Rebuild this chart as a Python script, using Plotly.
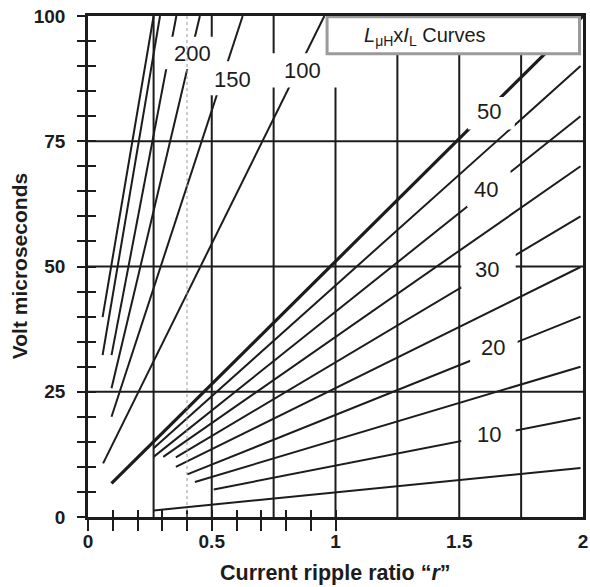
import plotly.graph_objects as go

# ---------------- data ----------------
# Low family of LxI curves: value, start (r, Et) and end (r, Et)
low_li = [5, 10, 15, 20, 25, 30, 35, 40, 45, 50]
low_r0 = [0.265, 0.508, 0.432, 0.401, 0.355, 0.355, 0.304, 0.265, 0.265, 0.095]
low_e0 = [1.3, 5.5, 7.0, 8.5, 10.0, 11.9, 12.0, 12.0, 13.7, 6.7]
low_r1 = [1.99, 1.99, 1.99, 1.99, 1.99, 1.99, 1.99, 1.99, 1.99, 2.0]
low_e1 = [9.8, 19.8, 30.0, 40.0, 49.9, 60.0, 70.0, 80.0, 90.0, 100.0]

# Steep family of LxI curves (100, 150, 200, 250 and two unlabeled)
steep_li = [100, 150, 200, 250, 300, 350]
steep_r0 = [0.061, 0.095, 0.095, 0.095, 0.059, 0.059]
steep_e0 = [10.7, 20.0, 25.7, 32.3, 32.3, 39.9]
steep_r1 = [0.955, 0.625, 0.452, 0.357, 0.291, 0.265]
steep_e1 = [100, 100, 100, 100, 100, 100]

# Grid
grid_r = [0.265, 0.5, 0.75, 1.0, 1.25, 1.5, 1.75]
grid_et = [25, 50, 75]
dotted_r = 0.4

# Curve labels (text, position, white knock-out box)
lab_text = ["200", "150", "100", "50", "40", "30", "20", "10"]
lab_r = [0.424, 0.582, 0.868, 1.621, 1.608, 1.614, 1.638, 1.620]
lab_et = [92.6, 87.4, 89.1, 80.9, 65.4, 49.4, 33.8, 16.4]
box_r0 = [0.308, 0.468, 0.728, 1.535, 1.532, 1.508, 1.544, 1.508]
box_r1 = [0.520, 0.696, 1.012, 1.724, 1.708, 1.728, 1.736, 1.728]
box_e0 = [89.36, 84.17, 85.71, 77.33, 61.82, 45.65, 30.88, 13.31]
box_e1 = [95.85, 90.96, 92.55, 83.83, 69.00, 52.64, 37.27, 19.30]

# Legend-like title box
legend_text = "<i>L</i><sub>μH</sub>x<i>I</i><sub>L</sub> Curves"
legend_box = [0.966, 1.986, 92.46, 99.84]
legend_pos = [1.108, 96.0]

# Axes
x_tick_vals = [0, 0.5, 1, 1.5, 2]
x_tick_text = ["0", "0.5", "1", "1.5", "2"]
x_minor = [round(0.1 * i, 1) for i in range(11)]
y_tick_vals = [0, 25, 50, 75, 100]
y_tick_text = ["0", "25", "50", "75", "100"]
y_minor = list(range(0, 101, 5))

INK = "#1c1c1c"
FONT = "Liberation Sans, Arial, sans-serif"

fig = go.Figure()

# gridlines as traces
gx, gy = [], []
for r in grid_r:
    gx += [r, r, None]
    gy += [0, 100, None]
for e in grid_et:
    gx += [0, 2, None]
    gy += [e, e, None]
fig.add_trace(go.Scatter(x=gx, y=gy, mode="lines", line=dict(color=INK, width=2),
                         hoverinfo="skip", showlegend=False))

for li, a, b, c, d in zip(low_li, low_r0, low_e0, low_r1, low_e1):
    fig.add_trace(go.Scatter(x=[a, c], y=[b, d], mode="lines", name=str(li),
                             line=dict(color=INK, width=3.2 if li == 50 else 2),
                             showlegend=False))
for li, a, b, c, d in zip(steep_li, steep_r0, steep_e0, steep_r1, steep_e1):
    fig.add_trace(go.Scatter(x=[a, c], y=[b, d], mode="lines", name=str(li),
                             line=dict(color=INK, width=2), showlegend=False))

# dummy traces for overlay tick axes
fig.add_trace(go.Scatter(x=[None], y=[None], xaxis="x2", yaxis="y2", showlegend=False))
fig.add_trace(go.Scatter(x=[None], y=[None], xaxis="x3", yaxis="y3", showlegend=False))

shapes = []
for a, b, c, d in zip(box_r0, box_r1, box_e0, box_e1):
    shapes.append(dict(type="rect", xref="x", yref="y", x0=a, x1=b, y0=c, y1=d,
                       fillcolor="white", line=dict(width=0), layer="above"))
shapes.append(dict(type="line", xref="x", yref="y", x0=dotted_r, x1=dotted_r, y0=0, y1=100,
                   line=dict(color="#9a9a9a", width=1, dash="dot"), layer="above"))
shapes.append(dict(type="rect", xref="x", yref="y", x0=legend_box[0], x1=legend_box[1],
                   y0=legend_box[2], y1=legend_box[3], fillcolor="white",
                   line=dict(color="#9b9b9b", width=3), layer="above"))

annotations = []
for t, r, e in zip(lab_text, lab_r, lab_et):
    annotations.append(dict(x=r, y=e, xref="x", yref="y", text=t, showarrow=False,
                            font=dict(family=FONT, size=22, color=INK),
                            xanchor="center", yanchor="middle"))
annotations.append(dict(x=legend_pos[0], y=legend_pos[1], xref="x", yref="y",
                        text=legend_text, showarrow=False, xanchor="left", yanchor="middle",
                        font=dict(family=FONT, size=20, color=INK)))
annotations.append(dict(x=0.5, y=-0.112, xref="paper", yref="paper",
                        text="Current ripple ratio “<i>r</i>”", showarrow=False,
                        xanchor="center", yanchor="middle",
                        font=dict(family=FONT, size=21.5, color=INK, weight="bold")))
annotations.append(dict(x=-0.138, y=0.5, xref="paper", yref="paper",
                        text="Volt microseconds", showarrow=False, textangle=-90,
                        xanchor="center", yanchor="middle",
                        font=dict(family=FONT, size=21, color=INK, weight="bold")))

tickfont = dict(family=FONT, size=19, color=INK, weight="bold")
fig.update_layout(
    width=590, height=587,
    margin=dict(l=88, r=2, t=16, b=70),
    paper_bgcolor="white", plot_bgcolor="white",
    xaxis=dict(range=[0, 2], showgrid=False, zeroline=False, showline=True, linecolor=INK,
               linewidth=2.5, mirror=True, tickvals=x_tick_vals, ticktext=x_tick_text,
               ticks="outside", ticklen=5, tickcolor="rgba(0,0,0,0)", tickfont=tickfont,
               ticklabeloverflow="allow"),
    yaxis=dict(range=[0, 100], showgrid=False, zeroline=False, showline=True, linecolor=INK,
               linewidth=2.5, mirror=True, tickvals=y_tick_vals, ticktext=y_tick_text,
               ticks="outside", ticklen=16, tickcolor="rgba(0,0,0,0)", tickfont=tickfont),
    xaxis2=dict(range=[0, 2], overlaying="x", anchor="y2", showgrid=False, zeroline=False,
                showline=False, tickvals=x_minor, ticks="outside", ticklen=13, tickwidth=2,
                tickcolor=INK, showticklabels=False),
    yaxis2=dict(range=[0, 100], overlaying="y", anchor="x2", showgrid=False, zeroline=False,
                showline=False, tickvals=y_minor, ticks="outside", ticklen=10, tickwidth=2,
                tickcolor=INK, showticklabels=False),
    xaxis3=dict(range=[0, 2], overlaying="x", anchor="y3", showgrid=False, zeroline=False,
                showline=False, tickvals=x_minor, ticks="inside", ticklen=7, tickwidth=2,
                tickcolor=INK, showticklabels=False),
    yaxis3=dict(range=[0, 100], overlaying="y", anchor="x3", showgrid=False, zeroline=False,
                showline=False, tickvals=y_minor, ticks="inside", ticklen=8, tickwidth=2,
                tickcolor=INK, showticklabels=False),
    shapes=shapes, annotations=annotations,
)

fig.write_html("out.html")
